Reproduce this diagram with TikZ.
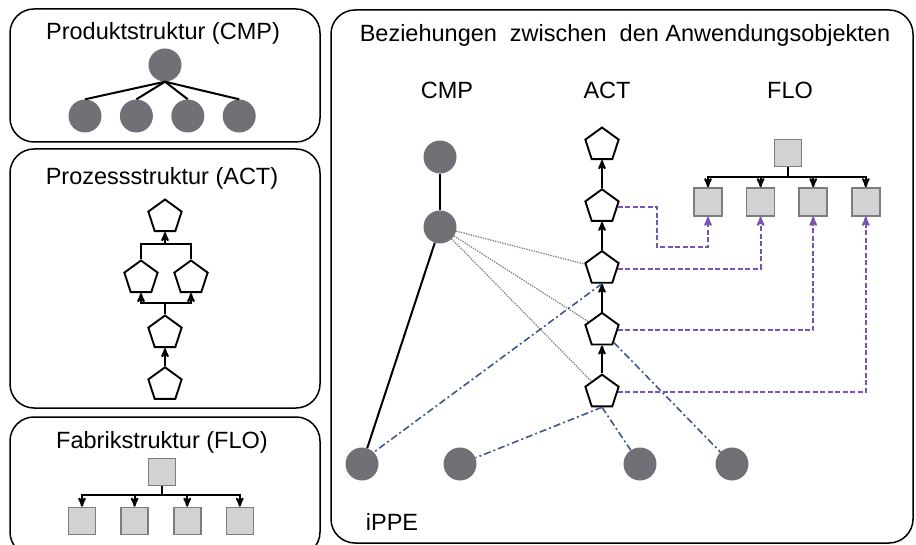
\documentclass[tikz,border=0pt]{standalone}
\usepackage{fontspec}
\setmainfont{Liberation Sans}
\usetikzlibrary{arrows, positioning, shapes}

\definecolor{cmpgray}{RGB}{112,113,118}
\definecolor{flofill}{RGB}{208,210,212}
\definecolor{flodraw}{RGB}{125,125,128}
\definecolor{linkblue}{RGB}{62,88,140}
\definecolor{mapviolet}{RGB}{122,82,182}

\begin{document}
\begin{tikzpicture}[>=stealth', x=1pt, y=-1pt, font=\fontsize{23.5}{27}\selectfont]
  \tikzset{
    frame/.style={
      draw=black,
      line width=1.5pt,
      rounded corners=24pt},
    blank/.style={
      inner sep=0pt,
      text centered},
    cmp/.style={
      circle,
      fill=cmpgray,
      minimum size=33pt,
      inner sep=0pt},
    act/.style={
      regular polygon,
      regular polygon sides=5,
      draw=black,
      line width=1.9pt,
      fill=white,
      minimum size=35pt,
      inner sep=0pt},
    flo/.style={
      rectangle,
      draw=flodraw,
      line width=1.6pt,
      fill=flofill,
      minimum size=27pt,
      inner sep=0pt},
    tree/.style={
      draw=black,
      line width=2pt},
    link/.style={
      draw=linkblue,
      line width=1.6pt,
      dash pattern=on 7pt off 3pt on 2pt off 3pt},
    trace/.style={
      draw=gray,
      line width=1.3pt,
      dash pattern=on 1.3pt off 1.2pt},
    map/.style={
      draw=mapviolet,
      line width=2pt,
      dash pattern=on 5pt off 2.5pt}}

  \useasboundingbox (0,0) rectangle (916,545);

  % frames
  \draw[frame] (10,9) rectangle (320,142);
  \draw[frame] (10,149) rectangle (320,408);
  \draw[frame] (10,417) rectangle (320,556);
  \draw[frame] (331,10) rectangle (913,543);

  % product structure
  \node[blank] (tcmp) at (163,33) {Produktstruktur (CMP)};
  \node[cmp] (pk0) at (165,65) {};
  \node[cmp] (pk1) at (85,116) {};
  \node[cmp] (pk2) [right=18pt of pk1] {};
  \node[cmp] (pk3) [right=18pt of pk2] {};
  \node[cmp] (pk4) [right=18pt of pk3] {};
  \foreach \k in {1,...,4}
    \path[tree] (pk0.south) -- (pk\k.north);

  % process structure
  \node[blank] (tact) at (162,178) {Prozessstruktur (ACT)};
  \node[act] (pp1) at (165,217) {};
  \node[act] (pp2) at (141,278) {};
  \node[act] (pp3) at (191,278) {};
  \node[act] (pp4) at (165,333) {};
  \node[act] (pp5) [below=18pt of pp4] {};
  \coordinate (pj1) at (165,244);
  \coordinate (pj2) at (165,303);
  \path[tree] (pp2.north) |- (pj1) -| (pp3.north);
  \path[tree,->] (pj1) -- (pp1.south);
  \path[tree,->] (pj2) -| (pp2.south);
  \path[tree,->] (pj2) -| (pp3.south);
  \path[tree] (pj2) -- (pp4.north);
  \path[tree,->] (pp5.north) -- (pp4.south);

  % factory structure
  \node[blank] (tflo) at (162,442) {Fabrikstruktur (FLO)};
  \node[flo] (fs0) at (162,472) {};
  \node[flo] (fs1) at (82,521) {};
  \node[flo] (fs2) [right=24pt of fs1] {};
  \node[flo] (fs3) [right=24pt of fs2] {};
  \node[flo] (fs4) [right=24pt of fs3] {};
  \coordinate (fj) at (162,495);
  \path[tree] (fs0.south) -- (fj);
  \foreach \k in {1,...,4}
    \path[tree,->] (fj) -| (fs\k.north);

  % relations
  \node[blank] (trel) at (625,35) {Beziehungen\ \ zwischen\ \ den Anwendungsobjekten};
  \node[blank] (lcmp) at (447,90) {CMP};
  \node[blank] (lact) at (607,90) {ACT};
  \node[blank] (lflo) at (790,90) {FLO};
  \node[blank] (lippe) at (392,522) {iPPE};

  \node[cmp] (c1) at (440,157) {};
  \node[cmp] (c2) at (440,227) {};

  \node[act] (a1) at (602,145) {};
  \node[act] (a2) [below=28pt of a1] {};
  \node[act] (a3) [below=28pt of a2] {};
  \node[act] (a4) [below=28pt of a3] {};
  \node[act] (a5) [below=28pt of a4] {};

  \node[flo] (f0) at (788,153) {};
  \node[flo, minimum size=28pt] (f1) at (708,202) {};
  \node[flo, minimum size=28pt] (f2) [right=23pt of f1] {};
  \node[flo, minimum size=28pt] (f3) [right=23pt of f2] {};
  \node[flo, minimum size=28pt] (f4) [right=23pt of f3] {};

  \node[cmp] (b1) at (362,464) {};
  \node[cmp] (b2) at (460,464) {};
  \node[cmp] (b3) at (640,464) {};
  \node[cmp] (b4) at (732,464) {};

  \path[tree] (c1) -- (c2);
  \path[tree] (c2) -- (b1);

  \path[tree,->] (a2.north) -- (a1.south);
  \path[tree,->] (a3.north) -- (a2.south);
  \path[tree,->] (a4.north) -- (a3.south);
  \path[tree,->] (a5.north) -- (a4.south);

  \coordinate (fj0) at (788,177);
  \path[tree] (f0.south) -- (fj0);
  \foreach \k in {1,...,4}
    \path[tree,->] (fj0) -| (f\k.north);

  \path[trace] (c2) -- (a3);
  \path[trace] (c2) -- (a4);
  \path[trace] (c2) -- (a5);

  \path[link] (a3.south) -- (b1.north east);
  \path[link] (a4) -- (b4);
  \path[link] (a5.south) -- (b2);
  \path[link] (a5.south) -- (b3);

  \coordinate (m1) at (657,247);
  \path[map,->] (a2.east) -| (m1) -| (f1.south);
  \path[map,->] (a3.east) -| (f2.south);
  \path[map,->] (a4.east) -| (f3.south);
  \path[map,->] (a5.east) -| (f4.south);

\end{tikzpicture}
\end{document}
